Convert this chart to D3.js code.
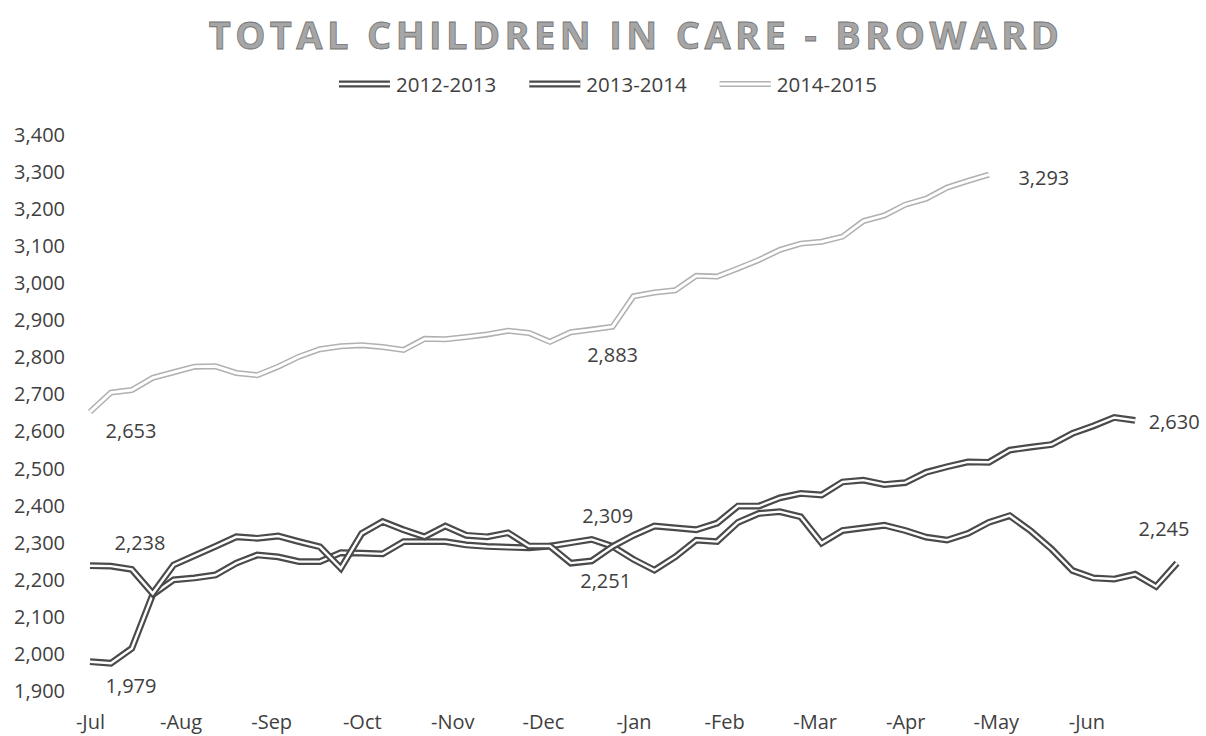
<!DOCTYPE html>
<html>
<head>
<meta charset="utf-8">
<script src="https://cdn.jsdelivr.net/npm/d3@7"></script>
<style>
  html, body { margin: 0; padding: 0; background: #ffffff; }
  svg { display: block; }
  text { font-family: "Open Sans", "Liberation Sans", sans-serif; }
</style>
</head>
<body>
<svg id="chart" width="1206" height="736"></svg>
<script>
// Weekly counts of children in out-of-home care, fiscal years July - June
const monthLabels = ["-Jul", "-Aug", "-Sep", "-Oct", "-Nov", "-Dec", "-Jan", "-Feb", "-Mar", "-Apr", "-May", "-Jun"];
const yTicks = [1900, 2000, 2100, 2200, 2300, 2400, 2500, 2600, 2700, 2800, 2900, 3000, 3100, 3200, 3300, 3400];
const seriesNames = ["2012-2013", "2013-2014", "2014-2015"];

const counts2012 = [1979, 1975, 2015, 2160, 2200, 2205, 2213, 2245, 2267, 2262,
                    2249, 2249, 2273, 2272, 2270, 2303, 2303, 2303, 2294, 2290,
                    2288, 2286, 2291, 2300, 2309, 2290, 2255, 2226, 2262, 2307,
                    2303, 2355, 2379, 2384, 2370, 2299, 2333, 2340, 2347, 2333,
                    2315, 2307, 2325, 2355, 2373, 2332, 2283, 2225, 2205, 2202,
                    2215, 2182, 2245];
const counts2013 = [2238, 2237, 2228, 2163, 2240, 2265, 2290, 2316, 2312, 2318,
                    2303, 2289, 2231, 2325, 2357, 2335, 2316, 2345, 2320, 2316,
                    2327, 2291, 2291, 2245, 2251, 2290, 2320, 2345, 2340, 2335,
                    2353, 2399, 2399, 2421, 2433, 2429, 2464, 2469, 2457, 2462,
                    2490, 2505, 2518, 2517, 2550, 2558, 2565, 2595, 2615, 2638,
                    2630];
const counts2014 = [2653, 2705, 2712, 2745, 2760, 2775, 2776, 2758, 2752, 2775,
                    2802, 2822, 2830, 2833, 2828, 2820, 2850, 2849, 2855, 2862,
                    2872, 2866, 2842, 2868, 2875, 2883, 2965, 2975, 2981, 3020,
                    3018, 3040, 3063, 3090, 3107, 3112, 3126, 3168, 3183, 3212,
                    3228, 3258, 3276, 3293];

// Which weekly points carry a value label (series number, week number)
const labelledSeries = [0, 0, 0, 1, 1, 1, 2, 2, 2];
const labelledWeeks  = [0, 24, 52, 0, 24, 50, 0, 25, 43];

const allSeries = [counts2012, counts2013, counts2014];

// ---- layout & styling ----
const W = 1206, H = 736;
const plot = { left: 90, right: 1177, top: 135, bottom: 691 };
const lineStyles = [
  { edge: "#4a4a4a", outer: 6.8, inner: 2.4 },
  { edge: "#4a4a4a", outer: 6.8, inner: 2.4 },
  { edge: "#b0b0b0", outer: 6.0, inner: 2.9 }
];
const labelOffsets = [
  [41, 24], [16, -24], [-13, -35],
  [50, -23], [14, 20], [39, 1],
  [41, 19], [0, 28], [55, 3]
];
const textColor = "#3f3f3f";
const fontSize = 20;

const svg = d3.select("#chart");

const x = d3.scaleLinear().domain([0, 52]).range([plot.left, plot.right]);
const y = d3.scaleLinear().domain([1900, 3400]).range([plot.bottom, plot.top]);

// Title
svg.append("text")
  .attr("x", 636)
  .attr("y", 49)
  .attr("text-anchor", "middle")
  .style("font-size", "38px")
  .style("font-weight", 700)
  .style("letter-spacing", "4.4px")
  .attr("fill", "#a6a6a6")
  .attr("stroke", "#747474")
  .attr("stroke-width", 0.8)
  .text("TOTAL CHILDREN IN CARE - BROWARD");

// Y axis (labels only)
const gy = svg.append("g")
  .attr("transform", `translate(${plot.left},0)`)
  .call(d3.axisLeft(y).tickValues(yTicks).tickFormat(d3.format(",")).tickSize(0).tickPadding(25));
gy.select(".domain").remove();
gy.selectAll("text")
  .style("font-size", fontSize + "px")
  .attr("fill", textColor);

// X axis (month labels only)
const monthPos = monthLabels.map((m, i) => i * 52 / 12);
const gx = svg.append("g")
  .attr("transform", `translate(0,${plot.bottom})`)
  .call(d3.axisBottom(x).tickValues(monthPos).tickFormat((d, i) => monthLabels[i]).tickSize(0).tickPadding(24));
gx.select(".domain").remove();
gx.selectAll("text")
  .style("font-size", fontSize + "px")
  .attr("fill", textColor);

// Double-stroked lines
const line = d3.line()
  .x((d, i) => x(i))
  .y(d => y(d))
  .curve(d3.curveLinear);

allSeries.forEach((vals, s) => {
  const st = lineStyles[s];
  const g = svg.append("g").attr("class", "series");
  g.append("path")
    .datum(vals)
    .attr("d", line)
    .attr("fill", "none")
    .attr("stroke", st.edge)
    .attr("stroke-width", st.outer)
    .attr("stroke-linejoin", "miter")
    .attr("stroke-miterlimit", 4);
  g.append("path")
    .datum(vals)
    .attr("d", line)
    .attr("fill", "none")
    .attr("stroke", "#ffffff")
    .attr("stroke-width", st.inner)
    .attr("stroke-linejoin", "miter")
    .attr("stroke-miterlimit", 4);
});

// Value labels
const fmt = d3.format(",");
labelledSeries.forEach((s, k) => {
  const w = labelledWeeks[k];
  const v = allSeries[s][w];
  svg.append("text")
    .attr("x", x(w) + labelOffsets[k][0])
    .attr("y", y(v) + labelOffsets[k][1])
    .attr("text-anchor", "middle")
    .attr("dominant-baseline", "central")
    .style("font-size", fontSize + "px")
    .attr("fill", textColor)
    .text(fmt(v));
});

// Legend
const legend = svg.append("g");
const symW = 51, symGap = 6, itemGap = 33, legendY = 84;
let cursor = 0;
seriesNames.forEach((name, s) => {
  const g = legend.append("g");
  const st = lineStyles[s];
  g.append("line").attr("x1", 0).attr("x2", symW).attr("y1", 0).attr("y2", 0)
    .attr("stroke", st.edge).attr("stroke-width", st.outer);
  g.append("line").attr("x1", 0).attr("x2", symW).attr("y1", 0).attr("y2", 0)
    .attr("stroke", "#ffffff").attr("stroke-width", st.inner);
  const t = g.append("text")
    .attr("x", symW + symGap)
    .attr("y", 0)
    .attr("dominant-baseline", "central")
    .style("font-size", "20.5px")
    .attr("fill", textColor)
    .text(name);
  const wdt = symW + symGap + t.node().getComputedTextLength();
  g.attr("transform", `translate(${cursor},${legendY})`);
  cursor += wdt + itemGap;
});
const legendWidth = cursor - itemGap;
legend.attr("transform", `translate(${608 - legendWidth / 2},0)`);
</script>
</body>
</html>
